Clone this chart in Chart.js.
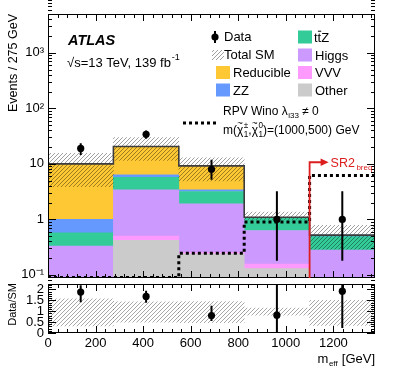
<!DOCTYPE html>
<html>
<head>
<meta charset="utf-8">
<title>meff</title>
<script src="https://cdn.jsdelivr.net/npm/chart.js@4.4.1/dist/chart.umd.min.js"></script>
<style>
  body { margin: 0; background: #fff; }
  canvas { position: absolute; left: 0; }
  #main { top: 0; }
  #ratio { top: 279px; }
</style>
</head>
<body>
<canvas id="main" width="395" height="288"></canvas>
<canvas id="ratio" width="395" height="100"></canvas>
<script>
const binEdges = [0, 275, 550, 825, 1100, 1375];
const binCenters = [137.5, 412.5, 687.5, 962.5, 1237.5];

// SM backgrounds per bin, stacked bottom to top
const other     = [0.02, 0.42, 0.24, 0.13, 0.03];
const vvv       = [0.06, 0.08, 0.015, 0.027, 0.02];
const higgs     = [0.25, 2.9, 1.655, 0.473, 0.23];
const ttz       = [0.24, 2.35, 1.27, 0.44, 0.21];
const zz        = [0.43, 0.6, 0.22, 0.02, 0.03];
const reducible = [9.0, 14.15, 5.8, 0, 0];

// total SM uncertainty band
const uncLo = [3.9, 11.5, 4.95, 1.0, 0.29];
const uncHi = [15.5, 29.6, 12.9, 1.35, 0.78];

// RPV Wino (1000,500)
const signal = [0.09, 0.09, 0.245, 0.9, 6.2];

const dataY  = [19, 34, 8, 1, 1];
const dataLo = [14.5, 28.3, 5.2, 0.18, 0.18];
const dataHi = [23.5, 40.0, 11.8, 3.2, 3.2];

const ratioY  = [1.88, 1.68, 0.80, 0.82, 1.92];
const ratioLo = [1.41, 1.39, 0.55, 0.05, 0.23];
const ratioHi = [2.19, 1.94, 1.25, 2.9, 3.4];
const bandLo  = [0.33, 0.50, 0.47, 0.82, 0.35];
const bandHi  = [1.57, 1.43, 1.44, 1.15, 1.50];

const yTicks = [0.1, 1, 10, 100, 1000];
const yTickLabels = ['10\u207B\u00B9', '1', '10', '10\u00B2', '10\u00B3'];
const xTicks = [0, 200, 400, 600, 800, 1000, 1200];
const xTickLabels = ['0', '200', '400', '600', '800', '1000', '1200'];
const rTicks = [0, 0.5, 1, 1.5, 2];
const rTickLabels = ['0', '0.5', '1', '1.5', '2'];

const processes = [
  { name: 'Other', values: other, color: '#cbcbcb' },
  { name: 'VVV', values: vvv, color: '#fe99fe' },
  { name: 'Higgs', values: higgs, color: '#cc99fe' },
  { name: 'ttZ', values: ttz, color: '#33cc99' },
  { name: 'ZZ', values: zz, color: '#6699fe' },
  { name: 'Reducible', values: reducible, color: '#fec834' }
];

const FONT = '"Liberation Sans", Arial, Helvetica, sans-serif';
Chart.defaults.font.family = FONT;
Chart.defaults.font.size = 13;
Chart.defaults.color = '#000';

const mainCtx = document.getElementById('main').getContext('2d');

function makeHatch(color) {
  const s = 4;
  const c = document.createElement('canvas');
  c.width = s; c.height = s;
  const g = c.getContext('2d');
  g.strokeStyle = color;
  g.lineWidth = 0.9;
  g.beginPath();
  g.moveTo(-1, s + 1); g.lineTo(s + 1, -1);
  g.moveTo(-1, 1); g.lineTo(1, -1);
  g.moveTo(s - 1, s + 1); g.lineTo(s + 1, s - 1);
  g.stroke();
  return mainCtx.createPattern(c, 'repeat');
}
const hatch = makeHatch('rgba(0,0,0,0.42)');
const hatchRatio = makeHatch('rgba(0,0,0,0.38)');

const totals = binCenters.map((_, i) => processes.reduce((s, p) => s + p.values[i], 0));
const steps = vals => binEdges.map((x, i) => ({ x, y: vals[Math.min(i, vals.length - 1)] }));

// ticks on all four sides, pointing inwards
const frameTicks = {
  id: 'frameTicks',
  afterDatasetsDraw(chart, args, o) {
    const { ctx, chartArea: a } = chart;
    const xs = chart.scales.x, ys = chart.scales.y;
    ctx.save();
    ctx.strokeStyle = '#000';
    ctx.lineWidth = 1;
    ctx.beginPath();
    const xt = (list, len) => list.forEach(v => {
      const p = Math.round(xs.getPixelForValue(v)) + 0.5;
      ctx.moveTo(p, a.bottom); ctx.lineTo(p, a.bottom - len);
      ctx.moveTo(p, a.top); ctx.lineTo(p, a.top + len);
    });
    const yt = (list, len) => list.forEach(v => {
      const p = Math.round(ys.getPixelForValue(v)) + 0.5;
      ctx.moveTo(a.left, p); ctx.lineTo(a.left + len, p);
      ctx.moveTo(a.right, p); ctx.lineTo(a.right - len, p);
    });
    xt(o.xMajor, 7); xt(o.xMinor, 4);
    yt(o.yMajor, 8); yt(o.yMinor, 4);
    ctx.stroke();
    ctx.strokeRect(Math.round(a.left) + 0.5, Math.round(a.top) + 0.5,
      Math.round(a.right - a.left) - 1, Math.round(a.bottom - a.top) - 1);
    ctx.restore();
  }
};

const errorBars = {
  id: 'errorBars',
  afterDatasetsDraw(chart, args, o) {
    const { ctx, chartArea: a } = chart;
    const xs = chart.scales.x, ys = chart.scales.y;
    ctx.save();
    ctx.beginPath(); ctx.rect(a.left, a.top, a.right - a.left, a.bottom - a.top); ctx.clip();
    ctx.strokeStyle = '#000';
    ctx.lineWidth = 2;
    ctx.beginPath();
    o.x.forEach((v, i) => {
      const px = xs.getPixelForValue(v);
      ctx.moveTo(px, ys.getPixelForValue(o.lo[i]));
      ctx.lineTo(px, ys.getPixelForValue(o.hi[i]));
    });
    ctx.stroke();
    ctx.restore();
  }
};

function text(ctx, s, x, y, size, opts = {}) {
  ctx.font = (opts.style || '') + ' ' + size + 'px ' + FONT;
  ctx.fillStyle = opts.color || '#000';
  ctx.textAlign = opts.align || 'left';
  ctx.textBaseline = opts.baseline || 'alphabetic';
  ctx.fillText(s, x, y);
  return x + ctx.measureText(s).width;
}

function chiTilde(ctx, x, y, size, sup, sub) {
  const x0 = x;
  x = text(ctx, '\u03C7', x, y, size);
  const w = x - x0;
  text(ctx, '~', x0 + w / 2, y - size * 0.62, size * 0.8, { align: 'center' });
  const a = text(ctx, sup, x + 0.5, y - size * 0.42, size * 0.68);
  const b = text(ctx, sub, x + 0.5, y + size * 0.28, size * 0.68);
  return Math.max(a, b);
}

const annotations = {
  id: 'annotations',
  afterDraw(chart) {
    const { ctx, chartArea: a } = chart;
    const xs = chart.scales.x, ys = chart.scales.y;
    ctx.save();

    // y title
    ctx.save();
    ctx.translate(14, a.top);
    ctx.rotate(-Math.PI / 2);
    text(ctx, 'Events / 275 GeV', 0, 0, 12.5, { align: 'right', baseline: 'middle' });
    ctx.restore();

    text(ctx, 'ATLAS', 68, 45, 14.5, { style: 'italic bold' });
    let x = text(ctx, '\u221As=13 TeV, 139 fb', 67, 66.5, 13);
    text(ctx, '-1', x + 1, 60, 9);

    // legend
    const rows = [37, 55, 72.5, 90];
    ctx.fillStyle = '#000';
    ctx.beginPath(); ctx.arc(215, rows[0], 3.6, 0, Math.PI * 2); ctx.fill();
    ctx.lineWidth = 2; ctx.strokeStyle = '#000';
    ctx.beginPath(); ctx.moveTo(215, rows[0] - 6); ctx.lineTo(215, rows[0] + 6); ctx.stroke();
    text(ctx, 'Data', 224, rows[0], 13, { baseline: 'middle' });
    ctx.fillStyle = hatch;
    ctx.fillRect(212, rows[1] - 5, 12, 10);
    text(ctx, 'Total SM', 224, rows[1], 13, { baseline: 'middle' });

    const boxes = [
      [216, rows[2], 'Reducible'], [216, rows[3], 'ZZ'],
      [298, rows[0], 'ttZ'], [298, rows[1], 'Higgs'],
      [298, rows[2], 'VVV'], [298, rows[3], 'Other']
    ];
    boxes.forEach(([bx, by, name]) => {
      const p = processes.find(q => q.name === name);
      ctx.fillStyle = p.color;
      ctx.fillRect(bx, by - 6.5, 14, 13);
      if (name === 'ttZ') {
        let tx = text(ctx, 't', bx + 16, by + 4.7, 13);
        const t2 = text(ctx, 't', tx, by + 4.7, 13);
        ctx.fillStyle = '#000';
        ctx.fillRect(tx + 0.3, by - 6.3, t2 - tx - 0.3, 1);
        text(ctx, 'Z', t2, by + 4.7, 13);
      } else {
        text(ctx, name, bx + 17, by + 4.7, 13);
      }
    });

    // signal entry
    ctx.strokeStyle = '#000'; ctx.lineWidth = 3; ctx.setLineDash([3, 3]);
    ctx.beginPath(); ctx.moveTo(183, 123); ctx.lineTo(216, 123); ctx.stroke();
    ctx.setLineDash([]);
    x = text(ctx, 'RPV Wino \u03BB', 223, 115, 12);
    x = text(ctx, 'i33', x + 0.5, 118, 8);
    text(ctx, ' \u2260 0', x, 115, 12);
    x = text(ctx, 'm(', 223, 133.5, 12);
    x = chiTilde(ctx, x, 133.5, 12, '\u00B1', '1');
    x = text(ctx, ',', x, 133.5, 12);
    x = chiTilde(ctx, x, 133.5, 12, '0', '1');
    text(ctx, ')=(1000,500) GeV', x, 133.5, 12);

    // SR2 region marker
    const xr = xs.getPixelForValue(1100);
    const ya = ys.getPixelForValue(10.7);
    ctx.strokeStyle = '#dc1e1e'; ctx.fillStyle = '#dc1e1e'; ctx.lineWidth = 1.8;
    ctx.beginPath(); ctx.moveTo(xr, a.bottom); ctx.lineTo(xr, ya); ctx.lineTo(xr + 12, ya); ctx.stroke();
    ctx.beginPath(); ctx.moveTo(xr + 11, ya - 3.8); ctx.lineTo(xr + 19, ya); ctx.lineTo(xr + 11, ya + 3.8); ctx.closePath(); ctx.fill();
    x = text(ctx, 'SR2', xr + 21, ya + 4.3, 12.5, { color: '#dc1e1e' });
    text(ctx, 'breq', x + 1.5, ya + 7.5, 8, { color: '#dc1e1e' });
    ctx.restore();
  }
};

const logMinor = [];
[0.01, 0.1, 1, 10, 100, 1000].forEach(d => { for (let k = 2; k <= 9; k++) logMinor.push(k * d); });
const xMinor = [];
for (let v = 40; v <= 1375; v += 40) xMinor.push(v);
const rMinor = [];
for (let v = 0.1; v < 2.25; v += 0.1) rMinor.push(v);

const barCommon = { grouped: false, barPercentage: 1, categoryPercentage: 1, borderWidth: 0 };

new Chart(mainCtx, {
  type: 'bar',
  data: {
    datasets: [
      ...processes.map(p => Object.assign({
        label: p.name,
        data: binCenters.map((x, i) => ({ x, y: p.values[i] })),
        backgroundColor: p.color,
        stack: 'sm',
        order: 10
      }, barCommon)),
      Object.assign({
        label: 'Total SM unc',
        data: binCenters.map((x, i) => ({ x, y: [uncLo[i], uncHi[i]] })),
        backgroundColor: hatch,
        stack: 'unc',
        order: 5
      }, barCommon),
      {
        type: 'line', label: 'Total SM', data: steps(totals), stepped: true,
        borderColor: '#3c3c3c', borderWidth: 1.6, pointRadius: 0, fill: false,
        stack: 'tot', order: 3
      },
      {
        type: 'line', label: 'Signal', data: steps(signal), stepped: true,
        borderColor: '#000', borderWidth: 3, borderDash: [3, 3], pointRadius: 0, fill: false,
        stack: 'sig', order: 2
      },
      {
        type: 'scatter', label: 'Data', data: binCenters.map((x, i) => ({ x, y: dataY[i] })),
        pointRadius: 3.6, backgroundColor: '#000', borderWidth: 0, stack: 'data', order: 1
      }
    ]
  },
  options: {
    responsive: false,
    animation: false,
    events: [],
    layout: { padding: { top: 14, right: 20, bottom: 10, left: 0 } },
    plugins: {
      legend: { display: false },
      tooltip: { enabled: false },
      frameTicks: { xMajor: xTicks, xMinor: xMinor, yMajor: yTicks, yMinor: logMinor },
      errorBars: { x: binCenters, lo: dataLo, hi: dataHi }
    },
    scales: {
      x: {
        type: 'linear', min: 0, max: 1375, offset: false, display: false,
        afterBuildTicks: s => { s.ticks = binEdges.map(v => ({ value: v })); }
      },
      y: {
        type: 'logarithmic', min: 0.088, max: 5000, stacked: true,
        grid: { display: false, drawTicks: false }, border: { display: false },
        ticks: { padding: 4, font: { size: 13 }, color: '#000', autoSkip: false,
          callback: (v, i) => yTickLabels[i] },
        afterBuildTicks: s => { s.ticks = yTicks.map(v => ({ value: v })); },
        afterFit: s => { s.width = 48; s.paddingTop = 0; s.paddingBottom = 0; }
      }
    }
  },
  plugins: [errorBars, frameTicks, annotations]
});

const ratioText = {
  id: 'ratioText',
  afterDraw(chart) {
    const { ctx, chartArea: a } = chart;
    ctx.save();
    ctx.translate(13, a.top - 1);
    ctx.rotate(-Math.PI / 2);
    text(ctx, 'Data/SM', 0, 0, 11, { align: 'right', baseline: 'middle' });
    ctx.restore();
    ctx.save();
    ctx.font = '13px ' + FONT;
    const w1 = ctx.measureText('m').width, w3 = ctx.measureText(' [GeV]').width;
    ctx.font = '8px ' + FONT;
    const w2 = ctx.measureText('eff').width;
    let x = a.right - (w1 + w2 + w3 + 1);
    x = text(ctx, 'm', x, 84, 13);
    x = text(ctx, 'eff', x + 0.5, 87, 8);
    text(ctx, ' [GeV]', x + 0.5, 84, 13);
    ctx.restore();
  }
};

new Chart(document.getElementById('ratio'), {
  type: 'bar',
  data: {
    datasets: [
      Object.assign({
        label: 'SM unc', xAxisID: 'xb',
        data: binCenters.map((x, i) => ({ x, y: [bandLo[i], bandHi[i]] })),
        backgroundColor: hatchRatio, order: 5
      }, barCommon),
      {
        type: 'scatter', label: 'Data/SM', data: binCenters.map((x, i) => ({ x, y: ratioY[i] })),
        pointRadius: 3.6, backgroundColor: '#000', borderWidth: 0, order: 1
      }
    ]
  },
  options: {
    responsive: false,
    animation: false,
    events: [],
    layout: { padding: { top: 5, right: 20, bottom: 0, left: 0 } },
    plugins: {
      legend: { display: false },
      tooltip: { enabled: false },
      frameTicks: { xMajor: xTicks, xMinor: xMinor, yMajor: rTicks, yMinor: rMinor },
      errorBars: { x: binCenters, lo: ratioLo, hi: ratioHi }
    },
    scales: {
      x: {
        type: 'linear', min: 0, max: 1375, offset: false,
        grid: { display: false, drawTicks: false }, border: { display: false },
        ticks: { padding: 3, font: { size: 13 }, color: '#000', maxRotation: 0, autoSkip: false,
          callback: (v, i) => xTickLabels[i] },
        afterBuildTicks: s => { s.ticks = xTicks.map(v => ({ value: v })); },
        afterFit: s => { s.height = 46; s.paddingLeft = 0; s.paddingRight = 0; }
      },
      xb: {
        type: 'linear', min: 0, max: 1375, offset: false, display: false,
        afterBuildTicks: s => { s.ticks = binEdges.map(v => ({ value: v })); }
      },
      y: {
        type: 'linear', min: 0, max: 2.25,
        grid: { display: false, drawTicks: false }, border: { display: false },
        ticks: { padding: 4, font: { size: 13 }, color: '#000', autoSkip: false,
          callback: (v, i) => rTickLabels[i] },
        afterBuildTicks: s => { s.ticks = rTicks.map(v => ({ value: v })); },
        afterFit: s => { s.width = 48; s.paddingTop = 0; s.paddingBottom = 0; }
      }
    }
  },
  plugins: [errorBars, frameTicks, ratioText]
});
</script>
</body>
</html>
